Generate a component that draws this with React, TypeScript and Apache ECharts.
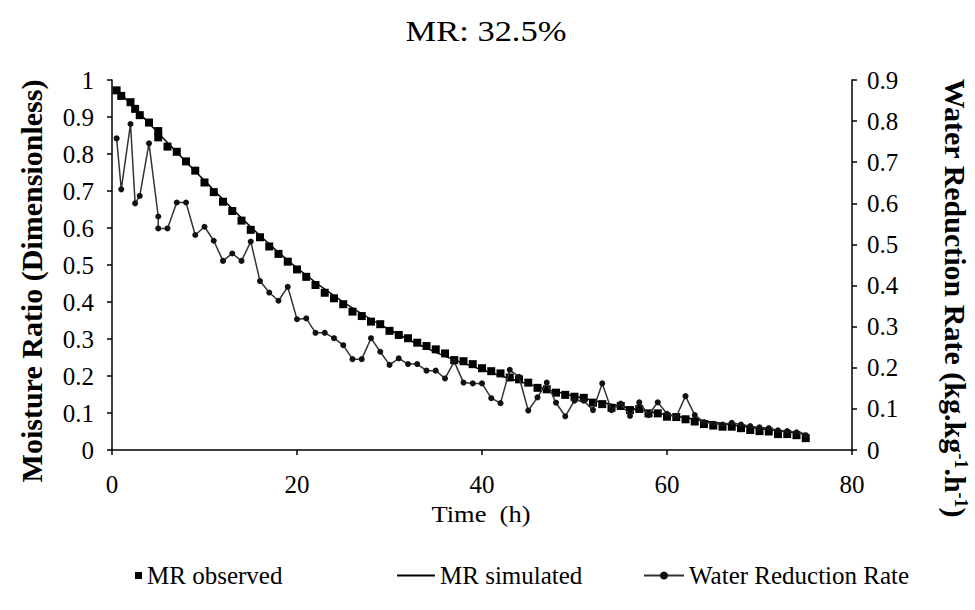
import React, { useEffect, useRef } from "react";
import * as echarts from "echarts";

const FONT = "Liberation Serif";

const titleText = "MR: 32.5%";
const xName = "Time  (h)";
const leftName = "Moisture Ratio (Dimensionless)";
const rightNameRich = "{a|Water Reduction Rate (kg.kg}{s|-1}{a|.h}{s|-1}{a|)}";

const time = [
  0.5, 1, 2, 2.5, 3, 4, 5, 5, 6, 7, 8, 9, 10, 11, 12, 13, 14, 15, 16, 17, 18, 19, 20,
  21, 22, 23, 24, 25, 26, 27, 28, 29, 30, 31, 32, 33, 34, 35, 36, 37, 38, 39, 40,
  41, 42, 43, 44, 45, 46, 47, 48, 49, 50, 51, 52, 53, 54, 55, 56, 57, 58, 59, 60,
  61, 62, 63, 64, 65, 66, 67, 68, 69, 70, 71, 72, 73, 74, 75,
];

const mrObserved = [
  0.972, 0.957, 0.94, 0.922, 0.905, 0.885, 0.862, 0.845, 0.82, 0.806, 0.78, 0.755, 0.723,
  0.697, 0.671, 0.646, 0.62, 0.595, 0.575, 0.55, 0.53, 0.509, 0.488,
  0.468, 0.446, 0.425, 0.41, 0.394, 0.374, 0.362, 0.347, 0.34, 0.322, 0.311, 0.302, 0.29,
  0.281, 0.272, 0.261, 0.243, 0.24, 0.232, 0.221,
  0.213, 0.207, 0.196, 0.191, 0.182, 0.168, 0.164, 0.155, 0.149, 0.144, 0.141, 0.128, 0.124,
  0.114, 0.119, 0.108, 0.111, 0.099, 0.099, 0.09,
  0.089, 0.083, 0.077, 0.07, 0.066, 0.063, 0.063, 0.059, 0.054, 0.051, 0.05, 0.043, 0.043,
  0.04, 0.032,
];

const waterReductionRate = [
  0.758, 0.634, 0.793, 0.6, 0.618, 0.746, 0.568, 0.539, 0.539, 0.602, 0.602, 0.523, 0.543,
  0.509, 0.46, 0.478, 0.46, 0.507, 0.411, 0.383, 0.363, 0.397, 0.318,
  0.32, 0.285, 0.285, 0.272, 0.255, 0.221, 0.221, 0.272, 0.239, 0.207, 0.223, 0.209, 0.209,
  0.193, 0.193, 0.174, 0.215, 0.164, 0.162, 0.162,
  0.126, 0.114, 0.195, 0.178, 0.096, 0.128, 0.164, 0.115, 0.082, 0.12, 0.12, 0.097, 0.162,
  0.097, 0.113, 0.083, 0.116, 0.085, 0.116, 0.088,
  0.081, 0.131, 0.085, 0.068, 0.064, 0.062, 0.066, 0.062, 0.058, 0.055, 0.053, 0.048, 0.046,
  0.043, 0.036,
];

const simTime = [0.5, 5, 10, 15, 20, 25, 30, 35, 40, 45, 50, 55, 60, 65, 70, 75];
const mrSimulated = [
  0.975, 0.857, 0.728, 0.603, 0.492, 0.4, 0.325, 0.264, 0.217, 0.178, 0.145, 0.118,
  0.095, 0.075, 0.058, 0.044,
];

const xTicks = { min: 0, max: 80, interval: 20 };
const leftTicks = { min: 0, max: 1, interval: 0.1 };
const rightTicks = { min: 0, max: 0.9, interval: 0.1 };

export default function App() {
  const ref = useRef<HTMLDivElement>(null);
  useEffect(() => {
    document.body.style.margin = "0";
    const chart = echarts.init(ref.current!, null, { renderer: "svg" });
    const axisCommon = {
      axisLine: { show: true, lineStyle: { color: "#000", width: 1.5 } },
      axisTick: { show: true, inside: false, length: 5, lineStyle: { color: "#000", width: 1.5 } },
      splitLine: { show: false },
      axisLabel: { fontFamily: FONT, fontSize: 25, color: "#000" },
    };
    const legendText = { fontFamily: FONT, fontSize: 25, color: "#000" };
    chart.setOption({
      animation: false,
      backgroundColor: "#fff",
      textStyle: { fontFamily: FONT },
      grid: { left: 112, right: 123, top: 80, bottom: 160, containLabel: false },
      xAxis: {
        type: "value",
        ...xTicks,
        ...axisCommon,
        axisLabel: { ...axisCommon.axisLabel, margin: 22 },
      },
      yAxis: [
        {
          type: "value",
          ...leftTicks,
          ...axisCommon,
          axisLabel: { ...axisCommon.axisLabel, margin: 18 },
        },
        {
          type: "value",
          position: "right",
          ...rightTicks,
          ...axisCommon,
          axisLabel: { ...axisCommon.axisLabel, margin: 15 },
        },
      ],
      legend: [
        {
          data: ["MR observed"],
          left: 130,
          top: 558,
          icon: "rect",
          itemWidth: 7,
          itemHeight: 7,
          itemGap: 10,
          textStyle: legendText,
        },
        {
          data: [{ name: "MR simulated", icon: "path://M0 0H40V2H0Z" }],
          left: 392,
          top: 558,
          itemWidth: 38,
          itemHeight: 2,
          itemGap: 4,
          textStyle: legendText,
        },
        {
          data: ["Water Reduction Rate"],
          left: 638,
          top: 558,
          itemWidth: 40,
          itemHeight: 10,
          textStyle: legendText,
        },
      ],
      graphic: [
        {
          type: "text",
          x: 486,
          y: 31,
          scaleX: 1.15,
          style: {
            text: titleText,
            fontFamily: FONT,
            fontSize: 30,
            fill: "#000",
            align: "center",
            verticalAlign: "middle",
          },
        },
        {
          type: "text",
          x: 481,
          y: 514,
          scaleX: 1.15,
          style: {
            text: xName,
            fontFamily: FONT,
            fontSize: 23,
            fill: "#000",
            align: "center",
            verticalAlign: "middle",
          },
        },
        {
          type: "text",
          x: 31,
          y: 281,
          rotation: Math.PI / 2,
          style: {
            text: leftName,
            fontFamily: FONT,
            fontSize: 30,
            fontWeight: "bold",
            fill: "#000",
            align: "center",
            verticalAlign: "middle",
          },
        },
        {
          type: "text",
          x: 955,
          y: 298,
          rotation: -Math.PI / 2,
          style: {
            text: rightNameRich,
            fontFamily: FONT,
            fontSize: 30,
            fontWeight: "bold",
            fill: "#000",
            align: "center",
            verticalAlign: "middle",
            rich: {
              a: { fontFamily: FONT, fontSize: 30, fontWeight: "bold", fill: "#000" },
              s: { fontFamily: FONT, fontSize: 18, fontWeight: "bold", fill: "#000", verticalAlign: "top" },
            },
          },
        },
      ],
      series: [
        {
          name: "MR simulated",
          type: "line",
          yAxisIndex: 0,
          data: simTime.map((t, i) => [t, mrSimulated[i]]),
          symbol: "none",
          smooth: 0.3,
          color: "#000",
          lineStyle: { color: "#000", width: 1.5 },
          z: 2,
        },
        {
          name: "MR observed",
          type: "scatter",
          yAxisIndex: 0,
          data: time.map((t, i) => [t, mrObserved[i]]),
          symbol: "rect",
          symbolSize: 8,
          itemStyle: { color: "#000", opacity: 1 },
          z: 3,
        },
        {
          name: "Water Reduction Rate",
          type: "line",
          yAxisIndex: 1,
          data: time.map((t, i) => [t, waterReductionRate[i]]),
          symbol: "circle",
          symbolSize: 6,
          showAllSymbol: true,
          color: "#111",
          itemStyle: { color: "#111" },
          lineStyle: { color: "#333", width: 1.5 },
          z: 4,
        },
      ],
    });
    return () => chart.dispose();
  }, []);
  return <div ref={ref} style={{ width: 975, height: 610 }} />;
}
